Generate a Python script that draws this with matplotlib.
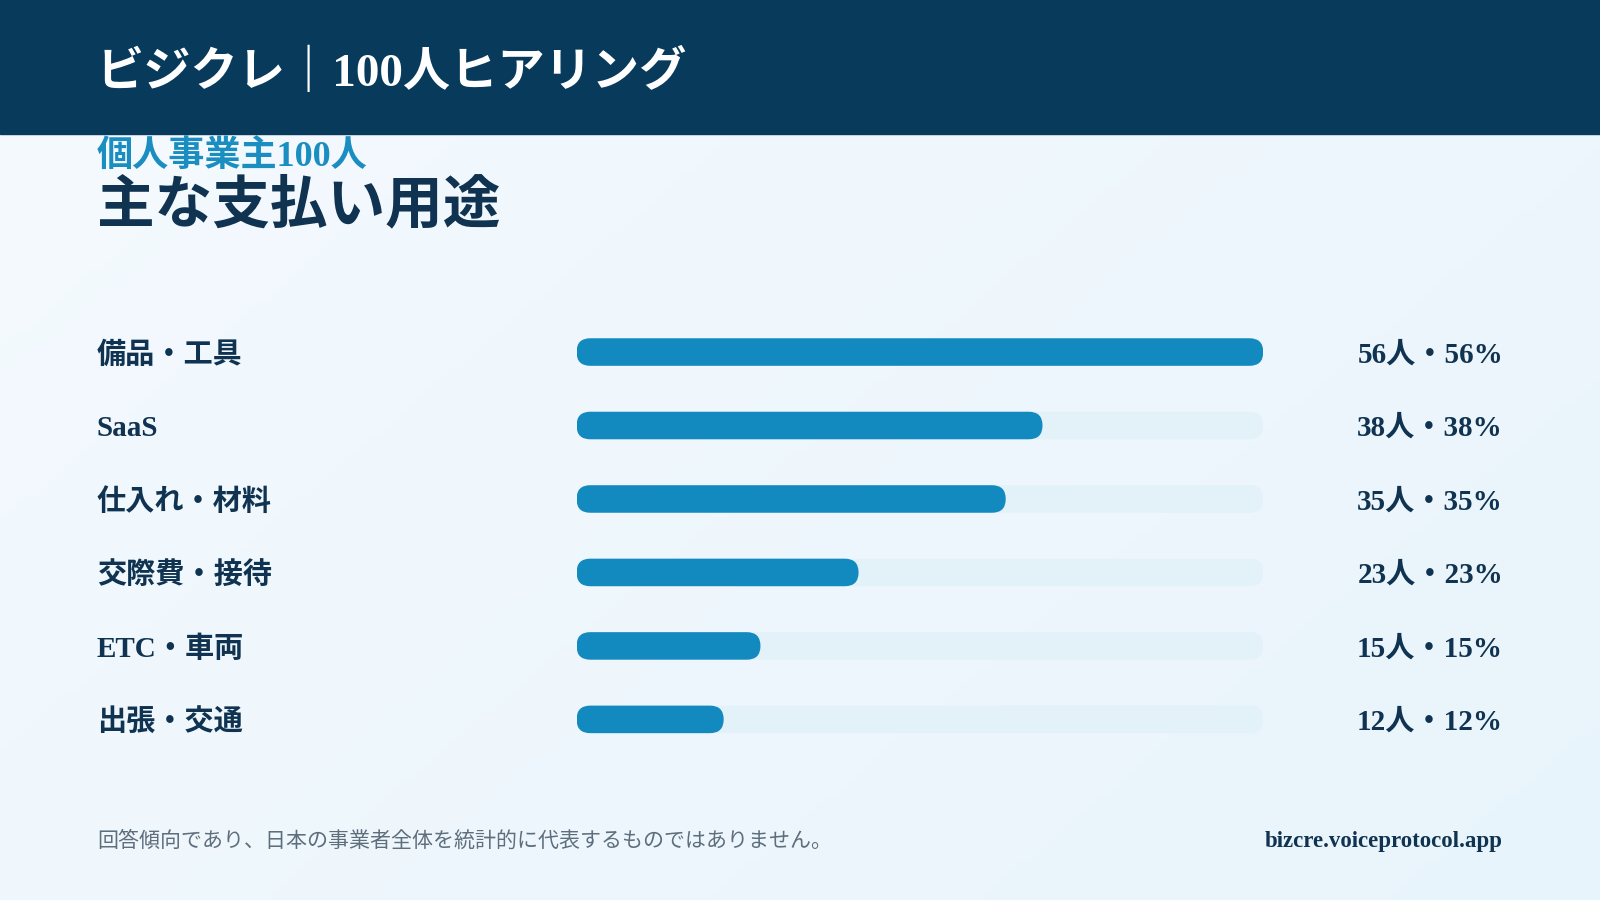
import numpy as np
import matplotlib
matplotlib.use("Agg")
import matplotlib.pyplot as plt
from matplotlib.patches import FancyBboxPatch, Rectangle

# data
categories = ["備品・工具", "SaaS", "仕入れ・材料", "交際費・接待", "ETC・車両", "出張・交通"]
counts = [56, 38, 35, 23, 15, 12]
total = 100

header = "ビジクレ｜100人ヒアリング"
subtitle = "個人事業主100人"
title = "主な支払い用途"
note = "回答傾向であり、日本の事業者全体を統計的に代表するものではありません。"
site = "bizcre.voiceprotocol.app"

NAVY = "#083A5C"
TEXT = "#0F3350"
BLUE = "#138ABF"
TRACK = "#E3F1F9"
SUB = "#1A8DC1"
GREY = "#5E6E7D"

plt.rcParams["font.family"] = ["Liberation Serif", "Noto Sans CJK JP", "DejaVu Sans"]

W, H = 1568, 882  # reference layout units
fig = plt.figure(figsize=(16, 9), dpi=100)

def fx(px):
    return px / W

def fy(py):
    return 1 - (py + 3) / H  # small shift so text sits like the reference

# background gradient
bg = fig.add_axes([0, 0, 1, 1], zorder=0)
gx, gy = np.meshgrid(np.linspace(0, 1, 200), np.linspace(0, 1, 120))
t = (gx * 0.6 + gy * 0.4)
c0 = np.array(matplotlib.colors.to_rgb("#F5FAFE"))
c1 = np.array(matplotlib.colors.to_rgb("#E8F4FB"))
img = c0[None, None, :] * (1 - t[..., None]) + c1[None, None, :] * t[..., None]
bg.imshow(img, extent=[0, 1, 0, 1], aspect="auto", origin="upper")
bg.add_patch(Rectangle((0, 1 - 131 / H), 1, 131 / H, color=NAVY, transform=bg.transAxes))
bg.set_xlim(0, 1)
bg.set_ylim(0, 1)
bg.axis("off")

# header and titles
fig.text(fx(95), fy(68), header, color="white", fontsize=34, fontweight="bold",
         va="center", ha="left")
fig.text(fx(95), fy(151), subtitle, color=SUB, fontsize=26, fontweight="bold",
         va="center", ha="left")
fig.text(fx(95), fy(200), title, color=TEXT, fontsize=41.5, fontweight="bold",
         va="center", ha="left")

# bars
top_px, bot_px = 309, 741
ax = fig.add_axes([fx(565), 1 - bot_px / H, fx(1238) - fx(565), (bot_px - top_px) / H], zorder=1)
n = len(categories)
xmax = max(counts)
ax.set_xlim(0, xmax)
ax.set_ylim(n - 0.5, -0.5)
ax.axis("off")
ax.patch.set_alpha(0)

fig.canvas.draw()
bbox = ax.get_window_extent()
x_per_px = xmax / bbox.width
y_per_px = n / bbox.height
aspect = y_per_px / x_per_px
bh = 0.375
rad = bh / aspect / 2

for i, (cat, v) in enumerate(zip(categories, counts)):
    ax.add_patch(FancyBboxPatch((0, i - bh / 2), xmax, bh,
                                boxstyle=f"round,pad=0,rounding_size={rad}",
                                mutation_aspect=aspect, fc=TRACK, ec="none"))
    ax.add_patch(FancyBboxPatch((0, i - bh / 2), v, bh,
                                boxstyle=f"round,pad=0,rounding_size={rad}",
                                mutation_aspect=aspect, fc=BLUE, ec="none"))
    row_y = fy(345 + 72 * i)
    fig.text(fx(95), row_y, cat, color=TEXT, fontsize=21, fontweight="bold",
             va="center", ha="left")
    fig.text(fx(1473), row_y, f"{v}人・{round(v / total * 100)}%", color=TEXT,
             fontsize=21, fontweight="bold", va="center", ha="right")

# footer
fig.text(fx(95), fy(822), note, color=GREY, fontsize=15.1, va="center", ha="left")
fig.text(fx(1473), fy(822), site, color=TEXT, fontsize=16.5, fontweight="bold",
         va="center", ha="right")

fig.savefig("out.png", dpi=100)
